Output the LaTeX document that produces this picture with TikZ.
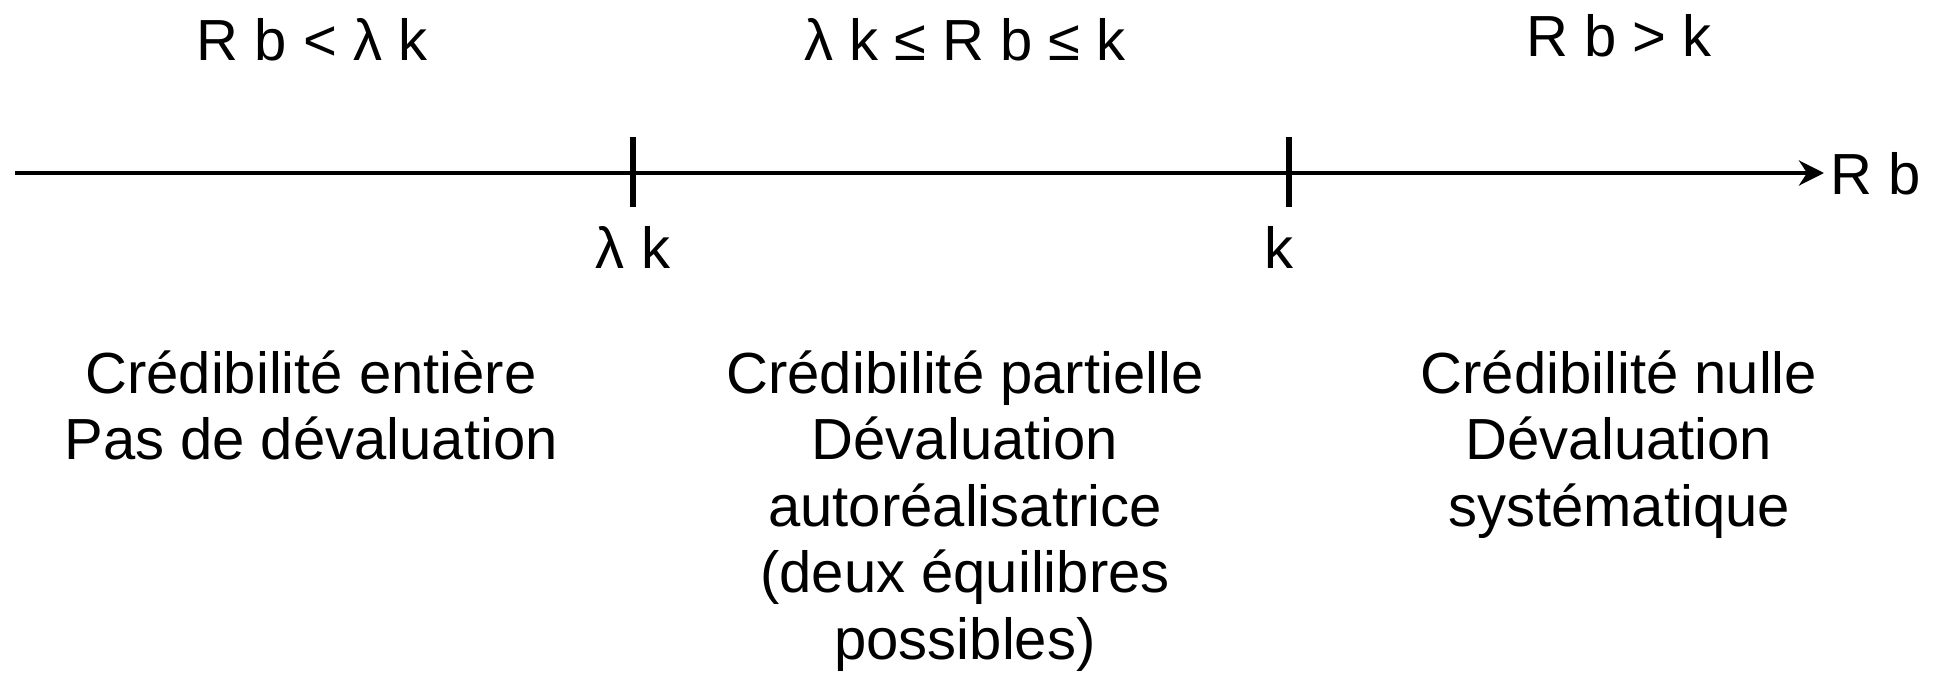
\documentclass[tikz,border=0pt]{standalone}
\usepackage{fontspec}
\setmainfont{Liberation Sans}
\usetikzlibrary{arrows.meta}
\tikzset{
  axisline/.style={line width=2.4pt, -{Stealth[length=12.5pt,width=12.5pt,inset=4pt]}},
  tickline/.style={line width=3.4pt},
  lbl/.style={inner sep=0pt, anchor=base, font=\fontsize{29}{33.3}\selectfont},
}
\newcommand{\blk}[1]{\begin{tabular}[t]{@{}c@{}}#1\end{tabular}}
\begin{document}
\begin{tikzpicture}[x=0.5pt,y=-0.5pt]
\useasboundingbox (0,0) rectangle (1934,675);
% axis
\coordinate (a0) at (15,173);
\coordinate (a1) at (1824,173);
\draw[axisline] (a0) -- (a1);
\node[lbl, anchor=base west] (rb) at (1830,194) {R b};
% ticks
\coordinate (t1top) at (633,137);
\coordinate (t1bot) at (633,207);
\coordinate (t2top) at (1289,137);
\coordinate (t2bot) at (1289,207);
\draw[tickline] (t1top) -- (t1bot);
\draw[tickline] (t2top) -- (t2bot);
\node[lbl] (lk) at (633,268) {λ k};
\node[lbl] (k) at (1279,268) {k};
% top labels
\node[lbl] (r1) at (312,60) {R b < λ k};
\node[lbl] (r2) at (965,60) {λ k ≤ R b ≤ k};
\node[lbl] (r3) at (1619,56) {R b > k};
% bottom blocks
\node[lbl] (b1) at (311,393) {\blk{Crédibilité entière\\Pas de dévaluation}};
\node[lbl] (b2) at (965,393) {\blk{Crédibilité partielle\\Dévaluation\\autoréalisatrice\\(deux équilibres\\possibles)}};
\node[lbl] (b3) at (1619,393) {\blk{Crédibilité nulle\\Dévaluation\\systématique}};
\end{tikzpicture}
\end{document}
